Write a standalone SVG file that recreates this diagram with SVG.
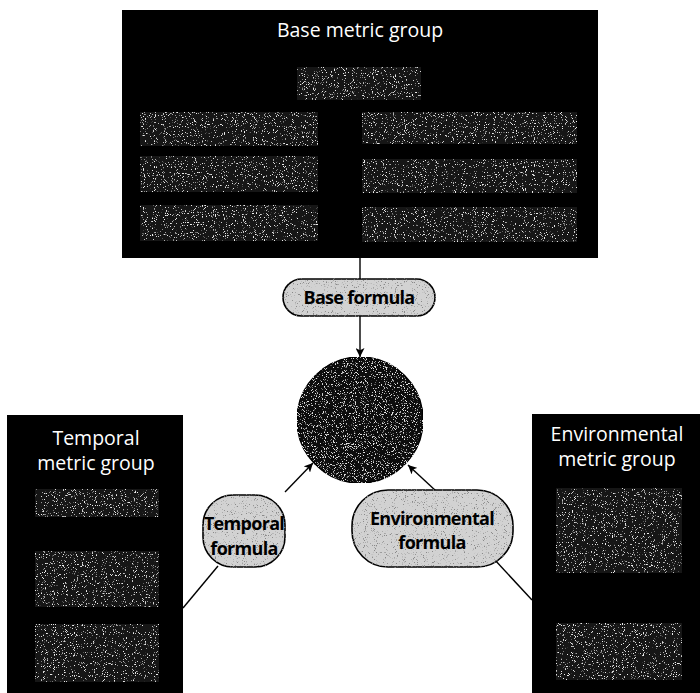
<svg xmlns="http://www.w3.org/2000/svg" width="700" height="693" viewBox="0 0 700 693">
  <style>
    .box { fill: #000000; }
    .inner { fill: #151515; filter: url(#specW); }
    .title { font-family: "Open Sans", "Noto Sans", "DejaVu Sans", sans-serif; font-size: 19.5px; fill: #ffffff; text-anchor: middle; }
    .pill { fill: #d2d2d2; stroke: #000000; stroke-width: 1.6; filter: url(#specK); }
    .plabel { font-family: "Open Sans", "Noto Sans", "DejaVu Sans", sans-serif; font-size: 18px; font-weight: bold; fill: #000000; text-anchor: middle; letter-spacing: -0.7px; }
    .core { fill: #101010; stroke: #000000; stroke-width: 1.5; filter: url(#specC); }
    .conn { stroke: #000000; stroke-width: 1.4; fill: none; }
  </style>
  <defs>
    <filter id="specW" x="0" y="0" width="1" height="1">
      <feTurbulence type="fractalNoise" baseFrequency="0.9" numOctaves="2" seed="4" result="n"/>
      <feColorMatrix in="n" type="matrix" values="0 0 0 0 0.85  0 0 0 0 0.85  0 0 0 0 0.85  9 0 0 0 -5.7" result="dots"/>
      <feComposite in="dots" in2="SourceAlpha" operator="in" result="d2"/>
      <feMerge><feMergeNode in="SourceGraphic"/><feMergeNode in="d2"/></feMerge>
    </filter>
    <filter id="specC" x="0" y="0" width="1" height="1">
      <feTurbulence type="fractalNoise" baseFrequency="0.9" numOctaves="2" seed="7" result="n"/>
      <feColorMatrix in="n" type="matrix" values="0 0 0 0 0.8  0 0 0 0 0.8  0 0 0 0 0.8  9 0 0 0 -5.4" result="dots"/>
      <feComposite in="dots" in2="SourceAlpha" operator="in" result="d2"/>
      <feMerge><feMergeNode in="SourceGraphic"/><feMergeNode in="d2"/></feMerge>
    </filter>
    <filter id="specK" x="-0.05" y="-0.1" width="1.1" height="1.2">
      <feTurbulence type="fractalNoise" baseFrequency="0.9" numOctaves="2" seed="9" result="n"/>
      <feColorMatrix in="n" type="matrix" values="0 0 0 0 0.25  0 0 0 0 0.25  0 0 0 0 0.25  9 0 0 0 -5.6" result="dots"/>
      <feComposite in="dots" in2="SourceAlpha" operator="in" result="d2"/>
      <feMerge><feMergeNode in="SourceGraphic"/><feMergeNode in="d2"/></feMerge>
    </filter>
    <marker id="arrow" viewBox="0 0 10 10" refX="10" refY="5" markerWidth="9" markerHeight="9" markerUnits="userSpaceOnUse" orient="auto">
      <path d="M0,0 L10,5 L0,10 L2.5,5 Z" fill="#000000"/>
    </marker>
  </defs>

  <g id="connectors">
    <line class="conn" x1="360" y1="258" x2="360" y2="279"/>
    <line class="conn" x1="360" y1="316" x2="360" y2="357" marker-end="url(#arrow)"/>
    <line class="conn" x1="183" y1="608" x2="218" y2="566"/>
    <line class="conn" x1="285" y1="492" x2="313" y2="463" marker-end="url(#arrow)"/>
    <line class="conn" x1="532" y1="600" x2="494" y2="559"/>
    <line class="conn" x1="436" y1="491" x2="408" y2="465" marker-end="url(#arrow)"/>
  </g>

  <g id="base-metric-group">
    <rect class="box" x="122" y="10" width="476" height="248"/>
    <text class="title" x="360" y="37">Base metric group</text>
    <rect class="inner" x="297" y="67" width="124" height="33"/>
    <rect class="inner" x="140" y="112" width="178" height="34"/>
    <rect class="inner" x="140" y="156" width="178" height="36"/>
    <rect class="inner" x="140" y="205" width="178" height="36"/>
    <rect class="inner" x="362" y="112" width="215" height="32"/>
    <rect class="inner" x="362" y="159" width="215" height="34"/>
    <rect class="inner" x="362" y="207" width="215" height="35"/>
  </g>

  <g id="base-formula">
    <rect class="pill" x="283" y="279" width="152" height="37" rx="18.5"/>
    <text class="plabel" x="359" y="304">Base formula</text>
  </g>

  <g id="score">
    <circle class="core" cx="360" cy="420" r="63"/>
  </g>

  <g id="temporal-metric-group">
    <rect class="box" x="7" y="415" width="176" height="278"/>
    <text class="title" x="96" y="445">Temporal</text>
    <text class="title" x="96" y="470">metric group</text>
    <rect class="inner" x="35" y="489" width="124" height="28"/>
    <rect class="inner" x="35" y="551" width="124" height="56"/>
    <rect class="inner" x="35" y="624" width="124" height="58"/>
  </g>

  <g id="temporal-formula">
    <rect class="pill" x="203" y="495" width="82" height="72" rx="30"/>
    <text class="plabel" x="244" y="530" font-size="17" letter-spacing="-1">Temporal</text>
    <text class="plabel" x="244" y="555" font-size="17" letter-spacing="-1">formula</text>
  </g>

  <g id="environmental-metric-group">
    <rect class="box" x="532" y="414" width="168" height="279"/>
    <text class="title" x="617" y="441">Environmental</text>
    <text class="title" x="617" y="466">metric group</text>
    <rect class="inner" x="556" y="488" width="126" height="85"/>
    <rect class="inner" x="556" y="623" width="126" height="57"/>
  </g>

  <g id="environmental-formula">
    <rect class="pill" x="352" y="490" width="161" height="77" rx="36"/>
    <text class="plabel" x="432" y="525">Environmental</text>
    <text class="plabel" x="432" y="549">formula</text>
  </g>
</svg>
